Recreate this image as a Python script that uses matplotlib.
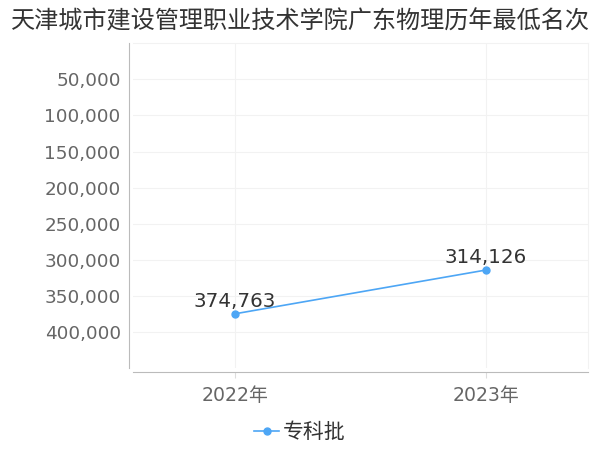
import matplotlib
matplotlib.use("Agg")
import matplotlib.pyplot as plt
from matplotlib.ticker import FuncFormatter

plt.rcParams['font.family'] = ['DejaVu Sans', 'Noto Sans CJK SC']

# data
years = ["2022年", "2023年"]
ranks = [374763, 314126]
series_name = "专科批"
title = "天津城市建设管理职业技术学院广东物理历年最低名次"
yticks = [50000, 100000, 150000, 200000, 250000, 300000, 350000, 400000]

fig = plt.figure(figsize=(6, 4.5), dpi=100)
ax = fig.add_axes([0.222, 0.182, 0.758, 0.722])

x = list(range(len(years)))
ax.plot(x, ranks, color="#4da6f5", linewidth=1.2, marker="o", markersize=5,
        label=series_name, zorder=3)
for xi, v in zip(x, ranks):
    ax.annotate(f"{v:,}", (xi, v), xytext=(0, 2), textcoords="offset points",
                ha="center", va="bottom", fontsize=14.3, color="#333333")

ax.set_xlim(-0.406, 1.406)
ax.set_ylim(450000, 0)
ax.set_xticks(x)
ax.set_xticklabels(years)
ax.set_yticks(yticks)
ax.yaxis.set_major_formatter(FuncFormatter(lambda v, p: f"{int(v):,}"))

ax.grid(True, color="#f2f2f2", linewidth=0.8)
ax.set_axisbelow(True)

for s in ["top", "right"]:
    ax.spines[s].set_color("#f2f2f2")
for s in ["left", "bottom"]:
    ax.spines[s].set_color("#bbbbbb")
    ax.spines[s].set_position(("outward", 3))

ax.tick_params(axis="y", length=0, pad=6, labelsize=13.2, labelcolor="#666666")
ax.tick_params(axis="x", length=4, color="#dddddd", pad=6, labelsize=13.6, labelcolor="#666666")

fig.text(0.5, 1 - 21 / 450, title, ha="center", va="center", fontsize=17.4,
         color="#333333", family=['Noto Sans CJK SC', 'DejaVu Sans'])

fig.legend(loc="center", bbox_to_anchor=(0.5, 1 - 432 / 450), frameon=False,
           fontsize=15, handlelength=1.2, handletextpad=0.2, labelcolor="#333333")

fig.savefig("out.png", dpi=100)
